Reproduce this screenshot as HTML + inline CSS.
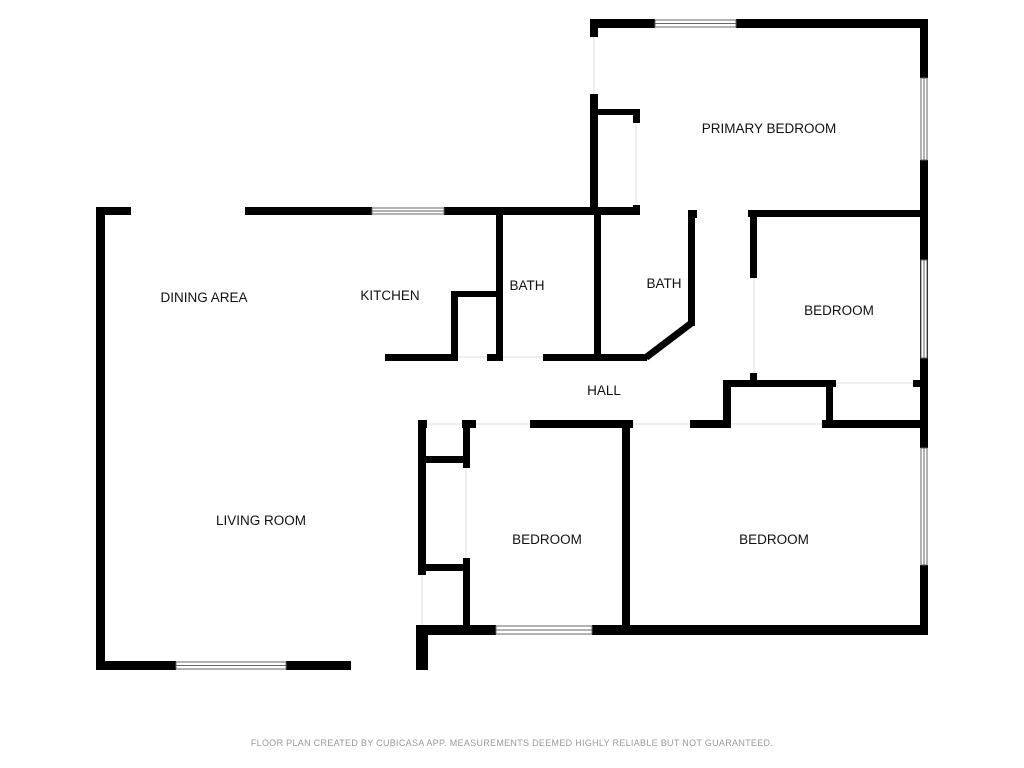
<!DOCTYPE html>
<html><head><meta charset="utf-8"><style>
html,body{margin:0;padding:0;background:#fff;}
svg{display:block}
text{font-family:"Liberation Sans",sans-serif;font-size:13.5px;fill:#111;text-anchor:middle}
.w{fill:#000}
.win{fill:#fff;stroke:#666;stroke-width:1}
.op{fill:none;stroke:#ddd;stroke-width:1}
</style></head><body>
<svg width="1024" height="768" viewBox="0 0 1024 768" xmlns="http://www.w3.org/2000/svg">
<g class="w">
<rect x="590" y="19" width="65" height="9"/>
<rect x="736" y="19" width="192" height="9"/>
<rect x="590" y="19" width="8" height="18"/>
<rect x="590" y="94" width="8" height="121"/>
<rect x="598" y="109" width="42" height="6"/>
<rect x="633" y="109" width="7" height="14"/>
<rect x="633" y="205" width="7" height="10"/>
<rect x="920" y="19" width="8" height="59"/>
<rect x="920" y="160" width="8" height="288"/>
<rect x="920" y="565" width="8" height="70"/>
<rect x="96" y="207" width="35" height="8"/>
<rect x="245" y="207" width="127" height="8"/>
<rect x="444" y="207" width="196" height="8"/>
<rect x="96" y="207" width="9" height="463"/>
<rect x="96" y="661" width="80" height="9"/>
<rect x="286" y="661" width="65" height="9"/>
<rect x="496" y="211" width="7" height="149"/>
<rect x="451" y="291" width="49" height="6"/>
<rect x="451" y="291" width="7" height="69"/>
<rect x="385" y="354" width="73" height="7"/>
<rect x="487" y="354" width="16" height="7"/>
<rect x="543" y="354" width="104" height="7"/>
<rect x="594" y="211" width="7" height="150"/>
<rect x="688" y="210" width="9" height="8"/>
<rect x="688" y="211" width="7" height="115"/>
</g>
<line x1="646" y1="357.5" x2="691.5" y2="323" stroke="#000" stroke-width="7"/>
<g class="w">
<rect x="748" y="210" width="180" height="7"/>
<rect x="750" y="210" width="7" height="68"/>
<rect x="750" y="373" width="7" height="12"/>
<rect x="723" y="380" width="113" height="7"/>
<rect x="913" y="380" width="8" height="7"/>
<rect x="723" y="380" width="8" height="47"/>
<rect x="826" y="380" width="7" height="47"/>
<rect x="418" y="420" width="9" height="8"/>
<rect x="462" y="420" width="14" height="8"/>
<rect x="530" y="420" width="103" height="8"/>
<rect x="690" y="420" width="41" height="8"/>
<rect x="822" y="420" width="106" height="8"/>
<rect x="622" y="420" width="8" height="215"/>
<rect x="418" y="420" width="8" height="155"/>
<rect x="416" y="625" width="12" height="45"/>
<rect x="463" y="420" width="7" height="48"/>
<rect x="463" y="558" width="7" height="72"/>
<rect x="418" y="456" width="52" height="7"/>
<rect x="418" y="564" width="52" height="7"/>
<rect x="418" y="625" width="78" height="10"/>
<rect x="592" y="625" width="336" height="10"/>
</g>
<rect class="win" x="655" y="20" width="81" height="7"/><line x1="655" y1="23.5" x2="736" y2="23.5" stroke="#666"/>
<rect class="win" x="921" y="78" width="6" height="82"/><line x1="924" y1="78" x2="924" y2="160" stroke="#666"/>
<rect class="win" x="921" y="448" width="6" height="117"/><line x1="924" y1="448" x2="924" y2="565" stroke="#666"/>
<rect class="win" x="921" y="260" width="6" height="98"/><line x1="924" y1="260" x2="924" y2="358" stroke="#666"/>
<rect class="win" x="372" y="208" width="72" height="6"/><line x1="372" y1="211" x2="444" y2="211" stroke="#666"/>
<rect class="win" x="176" y="662" width="110" height="7"/><line x1="176" y1="665.5" x2="286" y2="665.5" stroke="#666"/>
<rect class="win" x="496" y="626" width="96" height="8"/><line x1="496" y1="630" x2="592" y2="630" stroke="#666"/>
<line class="op" x1="594" y1="37" x2="594" y2="94"/>
<line class="op" x1="636" y1="123" x2="636" y2="205"/>
<line class="op" x1="754" y1="278" x2="754" y2="373"/>
<line class="op" x1="836" y1="383" x2="913" y2="383"/>
<line class="op" x1="466" y1="468" x2="466" y2="558"/>
<line class="op" x1="422" y1="575" x2="422" y2="625"/>
<line class="op" x1="458" y1="357" x2="487" y2="357"/>
<line class="op" x1="503" y1="357" x2="543" y2="357"/>
<line class="op" x1="476" y1="424" x2="530" y2="424"/>
<line class="op" x1="633" y1="424" x2="690" y2="424"/>
<line class="op" x1="731" y1="424" x2="822" y2="424"/>
<line class="op" x1="427" y1="424" x2="462" y2="424"/>
<text x="769" y="133">PRIMARY BEDROOM</text>
<text x="204" y="302">DINING AREA</text>
<text x="390" y="300">KITCHEN</text>
<text x="527" y="290">BATH</text>
<text x="664" y="288">BATH</text>
<text x="839" y="315">BEDROOM</text>
<text x="604" y="395">HALL</text>
<text x="261" y="525">LIVING ROOM</text>
<text x="547" y="544">BEDROOM</text>
<text x="774" y="544">BEDROOM</text>
<text x="512" y="746" style="font-size:9px;fill:#999;letter-spacing:0.3px">FLOOR PLAN CREATED BY CUBICASA APP. MEASUREMENTS DEEMED HIGHLY RELIABLE BUT NOT GUARANTEED.</text>
</svg>
</body></html>
